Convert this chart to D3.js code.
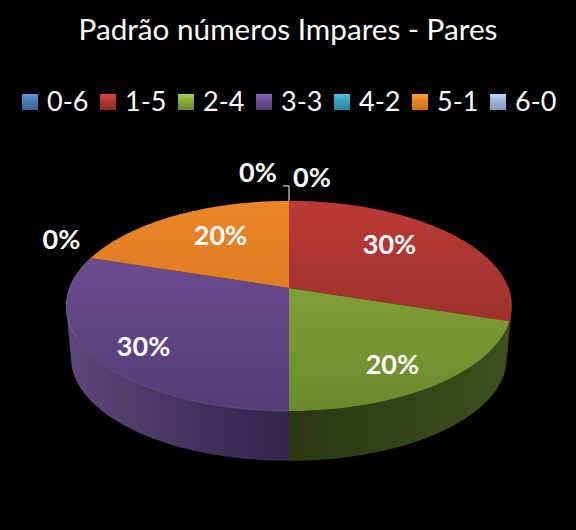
<!DOCTYPE html>
<html>
<head>
<meta charset="utf-8">
<title>Padrão números Impares - Pares</title>
<script src="https://d3js.org/d3.v7.min.js"></script>
<style>
    html, body { margin: 0; padding: 0; background: #000; }
    svg { display: block; }
    text { font-family: Lato, "Open Sans", sans-serif; }
</style>
</head>
<body>
<script type="text/javascript">
    const categories = ['0-6', '1-5', '2-4', '3-3', '4-2', '5-1', '6-0'];
    const values = [0, 30, 20, 30, 0, 20, 0];

    const topLight = ['#4f81bd', '#bb3a36', '#8fae41', '#6f5196', '#3da3c0', '#ec8528', '#a0b6dc'];
    const topDark = ['#3a6496', '#8c2a26', '#6b8a2c', '#563d78', '#2b87a0', '#d0701c', '#8097c0'];
    const sideLight = ['#2a4468', '#6e2420', '#3d501d', '#5e477a', '#1f5a70', '#7a4412', '#58688a'];
    const sideDark = ['#1c2f4a', '#4e1815', '#2a3712', '#32234a', '#123c4c', '#55300c', '#3c4860'];

    const w = 576;
    const h = 530;
    const cx = 289;
    const cy = 288;
    const rx = 219.5;
    const ry = 102;
    const persp = 0.1714;
    const depth = 52.5;
    const bottomScale = 0.978;

    // per label tweaks in px, from the slice middle
    const labelR = [1.2, 0.6, 0.6, 0.6, 1.2, 0.6, 1.2];
    const labelDx = [23, 0, 19, -32, 8, 3, -31];
    const labelDy = [-8, -9, 23, 21, -12, -6, -13];

    const svg = d3.select('body').append('svg').attr('width', w).attr('height', h);
    const defs = svg.append('defs');

    svg.append('rect').attr('width', w).attr('height', h).attr('fill', '#000');

    svg.append('text')
        .attr('x', 288)
        .attr('y', 40)
        .attr('text-anchor', 'middle')
        .attr('fill', '#fff')
        .attr('font-size', '29.7px')
        .text('Padrão números Impares - Pares');

    // legend
    const legendX = d3.scaleBand()
        .domain(categories)
        .range([22, 568]);

    categories.forEach((c, i) => {
        const g = defs.append('linearGradient')
            .attr('id', 'leg' + i)
            .attr('x1', 0).attr('y1', 0).attr('x2', 0).attr('y2', 1);
        g.append('stop').attr('offset', '0%').attr('stop-color', d3.color(topLight[i]).brighter(0.5));
        g.append('stop').attr('offset', '35%').attr('stop-color', topLight[i]);
        g.append('stop').attr('offset', '100%').attr('stop-color', topDark[i]);
    });

    const legend = svg.selectAll('g.legend')
        .data(categories)
        .enter()
        .append('g')
        .attr('class', 'legend')
        .attr('transform', d => 'translate(' + legendX(d) + ',94)');

    legend.append('rect')
        .attr('width', 16)
        .attr('height', 16)
        .attr('fill', (d, i) => 'url(#leg' + i + ')');

    legend.append('text')
        .attr('x', 25)
        .attr('y', 17)
        .attr('fill', '#fff')
        .attr('font-size', '27px')
        .text(d => d);

    // the tilted pie: unit circle seen through a small perspective
    function project(angle, r, lower) {
        const px = r * Math.sin(angle);
        const py = -r * Math.cos(angle);
        const d = 1 - persp * py;
        const s = lower ? bottomScale : 1;
        return [cx + s * rx * px / d, cy + (lower ? depth : 0) + s * ry * py / d];
    }

    const pieData = d3.pie().sort(null).value(d => d)(values);

    function arcPoints(d, lower) {
        const n = Math.max(2, Math.ceil((d.endAngle - d.startAngle) * 60));
        return d3.range(n + 1).map(k => {
            const t = d.startAngle + (d.endAngle - d.startAngle) * k / n;
            return project(t, 1, lower);
        });
    }

    const line = d3.line();

    // one little quad per arc step, all wound the same way so overlaps stay filled
    function sidePath(d) {
        const up = arcPoints(d, false);
        const low = arcPoints(d, true);
        return d3.range(up.length - 1).map(k => {
            const quad = [up[k], up[k + 1], low[k + 1], low[k]];
            if (d3.polygonArea(quad) < 0) quad.reverse();
            return line(quad) + 'Z';
        }).join('');
    }

    pieData.forEach((d, i) => {
        const top = defs.append('linearGradient')
            .attr('id', 'top' + i)
            .attr('gradientUnits', 'userSpaceOnUse')
            .attr('x1', 0).attr('y1', cy - 87).attr('x2', 0).attr('y2', cy + 123);
        top.append('stop').attr('offset', '0%').attr('stop-color', topLight[i]);
        top.append('stop').attr('offset', '100%').attr('stop-color', topDark[i]);

        const side = defs.append('linearGradient')
            .attr('id', 'side' + i)
            .attr('gradientUnits', 'userSpaceOnUse')
            .attr('x1', i === 3 ? cx - 223 : cx + 222).attr('y1', 0)
            .attr('x2', cx).attr('y2', 0);
        side.append('stop').attr('offset', '0%').attr('stop-color', sideLight[i]);
        side.append('stop').attr('offset', '100%').attr('stop-color', sideDark[i]);
    });

    const slices = pieData.filter(d => d.value > 0);

    // sides first, the tops cover whatever is behind
    svg.selectAll('path.side')
        .data(slices)
        .enter()
        .append('path')
        .attr('class', 'side')
        .attr('fill', d => 'url(#side' + d.index + ')')
        .attr('d', d => sidePath(d));

    svg.selectAll('path.top')
        .data(slices)
        .enter()
        .append('path')
        .attr('class', 'top')
        .attr('fill', d => 'url(#top' + d.index + ')')
        .attr('d', d => line([[cx, cy]].concat(arcPoints(d, false))) + 'Z');

    // thin light rim on the front of the top face
    svg.append('path')
        .attr('fill', 'none')
        .attr('stroke', '#fff')
        .attr('stroke-opacity', 0.18)
        .attr('stroke-width', 0.8)
        .attr('d', line(arcPoints(pieData[3], false)));

    // leader for the 0-6 / 6-0 labels
    const leadTop = project(0, 1, false);
    svg.append('path')
        .attr('fill', 'none')
        .attr('stroke', '#fff')
        .attr('stroke-width', 1)
        .attr('d', line([[leadTop[0] - 6, leadTop[1] - 15], [leadTop[0], leadTop[1] - 15], leadTop]));

    svg.selectAll('text.value')
        .data(pieData)
        .enter()
        .append('text')
        .attr('class', 'value')
        .attr('text-anchor', 'middle')
        .attr('fill', '#fff')
        .attr('font-size', '27px')
        .attr('font-weight', 'bold')
        .attr('x', (d, i) => project((d.startAngle + d.endAngle) / 2, labelR[i], false)[0] + labelDx[i])
        .attr('y', (d, i) => project((d.startAngle + d.endAngle) / 2, labelR[i], false)[1] + labelDy[i] + 9)
        .text(d => d.value + '%');
</script>
</body>
</html>
